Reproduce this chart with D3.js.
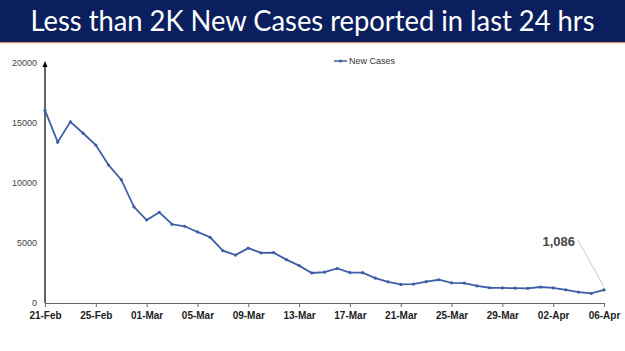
<!DOCTYPE html>
<html>
<head>
<meta charset="utf-8">
<script src="https://cdn.jsdelivr.net/npm/d3@7"></script>
<style>
  html,body{margin:0;padding:0;background:#fff;}
  #chart{width:625px;height:351px;}
</style>
</head>
<body>
<div id="chart"></div>
<script>
// New cases, 21-Feb .. 06-Apr (daily)
const dates = [
  "21-Feb","22-Feb","23-Feb","24-Feb","25-Feb","26-Feb","27-Feb","28-Feb",
  "01-Mar","02-Mar","03-Mar","04-Mar","05-Mar","06-Mar","07-Mar","08-Mar",
  "09-Mar","10-Mar","11-Mar","12-Mar","13-Mar","14-Mar","15-Mar","16-Mar",
  "17-Mar","18-Mar","19-Mar","20-Mar","21-Mar","22-Mar","23-Mar","24-Mar",
  "25-Mar","26-Mar","27-Mar","28-Mar","29-Mar","30-Mar","31-Mar","01-Apr",
  "02-Apr","03-Apr","04-Apr","05-Apr","06-Apr"
];
const newCases = [
  16051,13405,15102,14148,13166,11499,10273,8013,
  6915,7554,6561,6396,5921,5476,4362,3993,
  4575,4184,4194,3614,3116,2503,2568,2876,
  2539,2528,2075,1761,1549,1581,1778,1938,
  1685,1660,1421,1270,1259,1233,1225,1335,
  1260,1096,913,795,1086
];
const xTickLabels = ["21-Feb","25-Feb","01-Mar","05-Mar","09-Mar","13-Mar","17-Mar","21-Mar","25-Mar","29-Mar","02-Apr","06-Apr"];
const yTicks = [0,5000,10000,15000,20000];
const titleText = "Less than 2K New Cases reported in last 24 hrs";
const seriesName = "New Cases";

const W = 625, H = 351;
const lineColor = "#3e5ea6";

const svg = d3.select("#chart").append("svg")
  .attr("width",W).attr("height",H);

// Banner
svg.append("rect").attr("x",0).attr("y",0).attr("width",W).attr("height",42).attr("fill","#0b1f5e");
svg.append("rect").attr("x",0).attr("y",42).attr("width",W).attr("height",1.2).attr("fill","#e0906a");
svg.append("text")
  .attr("x",W/2).attr("y",31)
  .attr("text-anchor","middle")
  .attr("fill","#fff")
  .attr("font-family","Lato, 'Open Sans', sans-serif")
  .attr("font-size",28)
  .attr("textLength",564).attr("lengthAdjust","spacingAndGlyphs")
  .text(titleText);

// Scales
const x = d3.scalePoint().domain(dates).range([45,604]);
const y = d3.scaleLinear().domain([0,20000]).range([303,63]);

// Y axis: line with arrow head, labels only
const yTop = y(20000);
svg.append("line")
  .attr("x1",45).attr("x2",45).attr("y1",y(0)).attr("y2",yTop+2)
  .attr("stroke","#000").attr("stroke-width",1.2);
svg.append("path")
  .attr("d",`M42.5,${yTop+4} L45,${yTop-2} L47.5,${yTop+4} Z`)
  .attr("fill","#000");

svg.append("g")
  .attr("transform","translate(45,0)")
  .call(d3.axisLeft(y).tickValues(yTicks).tickSize(0).tickPadding(8).tickFormat(d3.format("d")))
  .call(g => g.select(".domain").remove())
  .call(g => g.selectAll("text")
    .attr("font-family","'Liberation Sans', Arial, sans-serif")
    .attr("font-size",9).attr("fill","#444"));

// X axis
svg.append("g")
  .attr("transform",`translate(0,${y(0)})`)
  .call(d3.axisBottom(x).tickValues(xTickLabels).tickSize(4).tickPadding(5))
  .call(g => g.select(".domain").attr("stroke","#666"))
  .call(g => g.selectAll(".tick line").attr("stroke","#666"))
  .call(g => g.selectAll("text")
    .attr("font-family","'Liberation Sans', Arial, sans-serif")
    .attr("font-size",10).attr("font-weight","bold").attr("fill","#222"));

// Line
const data = dates.map((d,i)=>({d, v:newCases[i]}));
svg.append("path")
  .datum(data)
  .attr("fill","none")
  .attr("stroke",lineColor)
  .attr("stroke-width",1.8)
  .attr("d",d3.line().x(p=>x(p.d)).y(p=>y(p.v)));

svg.append("g").selectAll("circle")
  .data(data).join("circle")
  .attr("cx",p=>x(p.d)).attr("cy",p=>y(p.v))
  .attr("r",1.6).attr("fill",lineColor);

// Legend
const lg = svg.append("g").attr("transform","translate(334,61)");
lg.append("line").attr("x1",0).attr("x2",13).attr("y1",0).attr("y2",0)
  .attr("stroke",lineColor).attr("stroke-width",1.5);
lg.append("circle").attr("cx",6.5).attr("cy",0).attr("r",1.6).attr("fill",lineColor);
lg.append("text").attr("x",15).attr("y",3)
  .attr("font-family","'Liberation Sans', Arial, sans-serif")
  .attr("font-size",9).attr("fill","#333").text(seriesName);

// Data label for last point
const last = data[data.length-1];
svg.append("line")
  .attr("x1",578).attr("y1",240)
  .attr("x2",x(last.d)).attr("y2",y(last.v)-3)
  .attr("stroke","#bbb").attr("stroke-width",0.8);
svg.append("text")
  .attr("x",575).attr("y",246)
  .attr("text-anchor","end")
  .attr("font-family","'Liberation Sans', Arial, sans-serif")
  .attr("font-size",13).attr("font-weight","bold").attr("fill","#444")
  .text(d3.format(",")(last.v));
</script>
</body>
</html>
